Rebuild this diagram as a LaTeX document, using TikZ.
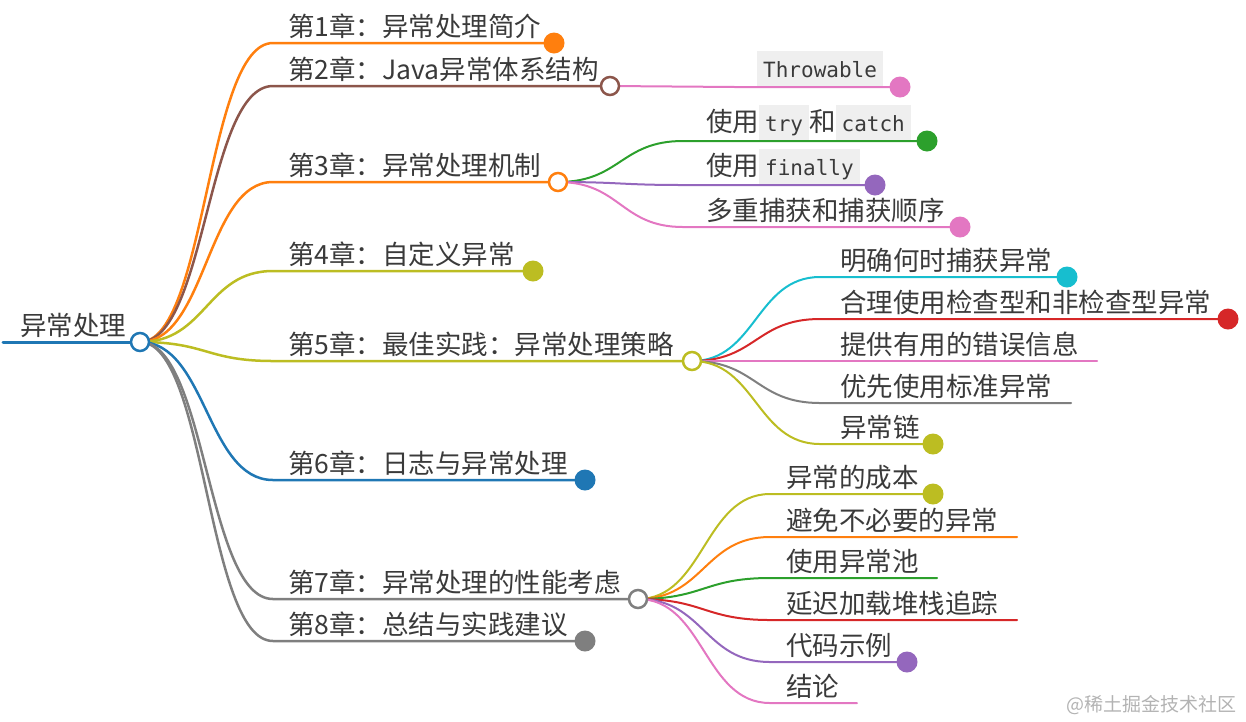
\documentclass[tikz,border=0pt]{standalone}
\usepackage{fontspec}
\setmainfont{Noto Sans CJK SC}
\newfontfamily\monofont{DejaVu Sans Mono}
\usetikzlibrary{calc}
\definecolor{cblue}{HTML}{1F77B4}
\definecolor{corange}{HTML}{FF7F0E}
\definecolor{cgreen}{HTML}{2CA02C}
\definecolor{cred}{HTML}{D62728}
\definecolor{cpurple}{HTML}{9467BD}
\definecolor{cbrown}{HTML}{8C564B}
\definecolor{cpink}{HTML}{E377C2}
\definecolor{cgray}{HTML}{7F7F7F}
\definecolor{colive}{HTML}{BCBD22}
\definecolor{ccyan}{HTML}{17BECF}
\definecolor{textc}{HTML}{3A3A3A}
\definecolor{codebg}{HTML}{EFEFEF}
\definecolor{wmc}{HTML}{B3B3B3}
\pgfdeclarelayer{background}
\pgfsetlayers{background,main}
\newcommand{\cb}[1]{{\setlength{\fboxsep}{0pt}\colorbox{codebg}{\rule[-9pt]{0pt}{35pt}\hspace{6pt}{\monofont\fontsize{21}{24}\selectfont #1}\hspace{6pt}}}}
\newcommand{\branch}[4]{\draw[#1] (#2) let \p1=(#2), \p2=(#3) in .. controls ({(\x1+\x2)/2},\y1) and ({(\x1+\x2)/2},\y2) .. (#3) -- (#4);}
\tikzset{
  txt/.style={anchor=base west, inner sep=0pt, text=textc, font=\fontsize{26.5}{30}\selectfont},
  hub/.style={circle, draw, fill=white, line width=2.5pt, minimum size=18pt, inner sep=0pt},
  leaf/.style={circle, fill, minimum size=21pt, inner sep=0pt},
  l0/.style={line width=3pt, line cap=round},
  l1/.style={line width=2.5pt, line cap=round},
  l2/.style={line width=2pt, line cap=round}
}
\begin{document}
\begin{tikzpicture}[x=1pt,y=-1pt]
\useasboundingbox (0,0) rectangle (1246,721);
% ---------- hubs and leaf dots ----------
\node[hub, draw=cblue] (R) at (140,342) {};
\node[leaf, fill=corange] (d1) at (554,43) {};
\node[hub, draw=cbrown] (c2) at (610,86) {};
\node[hub, draw=corange] (c3) at (558,182) {};
\node[leaf, fill=colive] (d4) at (533,271) {};
\node[hub, draw=colive] (c5) at (692,361) {};
\node[leaf, fill=cblue] (d6) at (585,480) {};
\node[hub, draw=cgray] (c7) at (638,599) {};
\node[leaf, fill=cgray] (d8) at (585,641) {};
\node[leaf, fill=cpink] (d2a) at (900,87) {};
\node[leaf, fill=cgreen] (d3a) at (927,141) {};
\node[leaf, fill=cpurple] (d3b) at (875,185) {};
\node[leaf, fill=cpink] (d3c) at (960,227) {};
\node[leaf, fill=ccyan] (d5a) at (1067,277) {};
\node[leaf, fill=cred] (d5b) at (1228,319) {};
\node[leaf, fill=colive] (d5e) at (933,444) {};
\node[leaf, fill=colive] (d7a) at (933,494) {};
\node[leaf, fill=cpurple] (d7e) at (907,662) {};
% ---------- line start / end points ----------
\coordinate (r0) at (3,342);
\coordinate (s1) at (273,43);
\coordinate (s2) at (273,86);
\coordinate (s3) at (273,182);
\coordinate (s4) at (273,271);
\coordinate (s5) at (273,361);
\coordinate (s6) at (273,480);
\coordinate (s7) at (273,599);
\coordinate (s8) at (273,641);
\coordinate (s2a) at (735,87);
\coordinate (s3a) at (683,141);
\coordinate (s3b) at (683,185);
\coordinate (s3c) at (683,227);
\coordinate (s5a) at (820,277);
\coordinate (s5b) at (820,319);
\coordinate (s5c) at (820,361);
\coordinate (e5c) at (1097,361);
\coordinate (s5d) at (820,403);
\coordinate (e5d) at (1071,403);
\coordinate (s5e) at (820,444);
\coordinate (s7a) at (770,494);
\coordinate (s7b) at (770,537);
\coordinate (e7b) at (1017,537);
\coordinate (s7c) at (770,578);
\coordinate (e7c) at (937,578);
\coordinate (s7d) at (770,620);
\coordinate (e7d) at (1017,620);
\coordinate (s7e) at (770,662);
\coordinate (s7f) at (770,703);
\coordinate (e7f) at (857,703);
% ---------- connectors ----------
\begin{pgfonlayer}{background}
\draw[l0, cblue] (r0) -- (R.center);
\branch{l1, corange}{R.center}{s1}{d1.center}
\branch{l1, cbrown}{R.center}{s2}{c2.center}
\branch{l1, corange}{R.center}{s3}{c3.center}
\branch{l1, colive}{R.center}{s4}{d4.center}
\branch{l1, colive}{R.center}{s5}{c5.center}
\branch{l1, cblue}{R.center}{s6}{d6.center}
\branch{l1, cgray}{R.center}{s7}{c7.center}
\branch{l1, cgray}{R.center}{s8}{d8.center}
\branch{l2, cpink}{c2.center}{s2a}{d2a.center}
\branch{l2, cgreen}{c3.center}{s3a}{d3a.center}
\branch{l2, cpurple}{c3.center}{s3b}{d3b.center}
\branch{l2, cpink}{c3.center}{s3c}{d3c.center}
\branch{l2, ccyan}{c5.center}{s5a}{d5a.center}
\branch{l2, cred}{c5.center}{s5b}{d5b.center}
\branch{l2, cpink}{c5.center}{s5c}{e5c}
\branch{l2, cgray}{c5.center}{s5d}{e5d}
\branch{l2, colive}{c5.center}{s5e}{d5e.center}
\branch{l2, colive}{c7.center}{s7a}{d7a.center}
\branch{l2, corange}{c7.center}{s7b}{e7b}
\branch{l2, cgreen}{c7.center}{s7c}{e7c}
\branch{l2, cred}{c7.center}{s7d}{e7d}
\branch{l2, cpurple}{c7.center}{s7e}{d7e.center}
\branch{l2, cpink}{c7.center}{s7f}{e7f}
\end{pgfonlayer}
% ---------- texts ----------
\node[txt] (tR) at (20,335) {异常处理};
\node[txt] (t1) at (288,36) {第1章：异常处理简介};
\node[txt] (t2) at (288,79) {第2章：Java异常体系结构};
\node[txt] (t3) at (288,175) {第3章：异常处理机制};
\node[txt] (t4) at (288,264) {第4章：自定义异常};
\node[txt] (t5) at (288,354) {第5章：最佳实践：异常处理策略};
\node[txt] (t6) at (288,473) {第6章：日志与异常处理};
\node[txt] (t7) at (288,592) {第7章：异常处理的性能考虑};
\node[txt] (t8) at (288,634) {第8章：总结与实践建议};
\node[txt] (t2a) at (757,77) {\cb{Throwable}};
\node[txt] (t3a) at (706,131) {使用\cb{try}和\cb{catch}};
\node[txt] (t3b) at (706,175) {使用\cb{finally}};
\node[txt] (t3c) at (706,220) {多重捕获和捕获顺序};
\node[txt] (t5a) at (840,270) {明确何时捕获异常};
\node[txt] (t5b) at (840,312) {合理使用检查型和非检查型异常};
\node[txt] (t5c) at (840,354) {提供有用的错误信息};
\node[txt] (t5d) at (840,396) {优先使用标准异常};
\node[txt] (t5e) at (840,437) {异常链};
\node[txt] (t7a) at (786,487) {异常的成本};
\node[txt] (t7b) at (786,530) {避免不必要的异常};
\node[txt] (t7c) at (786,571) {使用异常池};
\node[txt] (t7d) at (786,613) {延迟加载堆栈追踪};
\node[txt] (t7e) at (786,655) {代码示例};
\node[txt] (t7f) at (786,696) {结论};
\node[anchor=base west, inner sep=0pt, text=wmc, font=\fontsize{19}{22}\selectfont] (wm) at (1066,711) {@稀土掘金技术社区};
\end{tikzpicture}
\end{document}
